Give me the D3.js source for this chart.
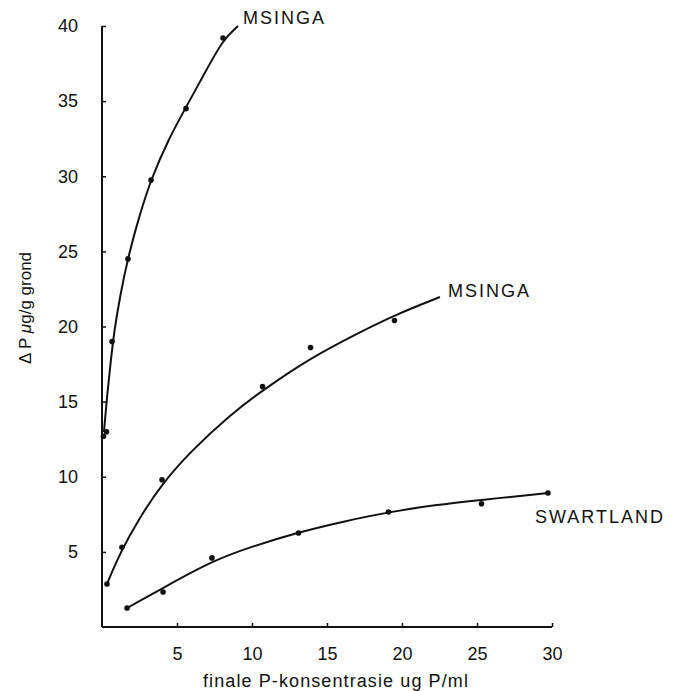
<!DOCTYPE html>
<html>
<head>
<meta charset="utf-8">
<script src="https://cdn.jsdelivr.net/npm/d3@7"></script>
<style>
  body { margin: 0; background: #fff; }
  text { font-family: "Liberation Sans", Arial, sans-serif; fill: #111; }
</style>
</head>
<body>
<div id="chart"></div>
<script>
// tick values
const xTicks = [5, 10, 15, 20, 25, 30];
const yTicks = [5, 10, 15, 20, 25, 30, 35, 40];

// measured points [x, y]
const msingaTopPts = [[0.1, 12.7], [0.3, 13.0], [0.67, 19.0], [1.73, 24.5], [3.27, 29.75], [5.6, 34.5], [8.07, 39.2]];
const msingaMidPts = [[0.33, 2.86], [1.33, 5.3], [4.0, 9.8], [10.7, 16.0], [13.9, 18.6], [19.5, 20.4]];
const swartlandPts = [[1.67, 1.26], [4.07, 2.33], [7.33, 4.6], [13.1, 6.26], [19.1, 7.65], [25.3, 8.2], [29.73, 8.92]];

// fitted curves
const msingaTopCurve = [[0.13, 12.98], [0.33, 15.3], [0.57, 17.6], [0.83, 19.8], [1.2, 22.0], [1.73, 24.6], [2.53, 27.5], [3.27, 29.8], [4.4, 32.4], [5.6, 34.6], [6.87, 36.9], [8.07, 39.1], [9.07, 40.0]];
const msingaMidCurve = [[0.33, 2.86], [1.2, 4.93], [2.53, 7.32], [4.0, 9.52], [5.87, 11.65], [8.53, 14.11], [10.73, 15.77], [13.87, 17.9], [17.2, 19.63], [19.53, 20.77], [22.53, 21.96]];
const swartlandCurve = [[1.67, 1.26], [4.07, 2.6], [7.33, 4.39], [9.87, 5.32], [13.13, 6.32], [16.2, 7.05], [19.13, 7.65], [22.2, 8.12], [25.2, 8.45], [29.73, 8.92]];

const width = 686, height = 691;
const svg = d3.select("#chart").append("svg").attr("width", width).attr("height", height);

const x = d3.scaleLinear().domain([0, 30]).range([102, 552]);
const y = d3.scaleLinear().domain([0, 40]).range([627, 26]);

// axes
const xAxis = d3.axisBottom(x).tickValues(xTicks).tickSize(-4).tickSizeOuter(0).tickPadding(20);
const yAxis = d3.axisLeft(y).tickValues(yTicks).tickSize(-4).tickSizeOuter(0).tickPadding(24);

const gx = svg.append("g").attr("transform", "translate(0," + y(0) + ")").call(xAxis);
const gy = svg.append("g").attr("transform", "translate(" + x(0) + ",0)").call(yAxis);
[gx, gy].forEach(g => {
  g.select(".domain").attr("stroke", "#111").attr("stroke-width", 2);
  g.selectAll(".tick line").attr("stroke", "#111").attr("stroke-width", 1.5);
  g.selectAll(".tick text").style("font-size", "18px").attr("fill", "#111");
});
gy.select(".domain").attr("d", "M0," + y(40) + "V" + y(0));
gx.select(".domain").attr("d", "M" + x(0) + ",0H" + x(30));

// curves
const line = d3.line().x(d => x(d[0])).y(d => y(d[1])).curve(d3.curveBasis);
[msingaTopCurve, msingaMidCurve, swartlandCurve].forEach(c => {
  svg.append("path").attr("d", line(c)).attr("fill", "none").attr("stroke", "#111").attr("stroke-width", 2);
});

// points
[msingaTopPts, msingaMidPts, swartlandPts].forEach(pts => {
  svg.selectAll(null).data(pts).enter().append("circle")
    .attr("cx", d => x(d[0])).attr("cy", d => y(d[1])).attr("r", 2.8)
    .attr("fill", "#111");
});

// series labels
const labels = [
  { t: "MSINGA", x: 243, y: 24 },
  { t: "MSINGA", x: 448, y: 297 },
  { t: "SWARTLAND", x: 535, y: 523 }
];
svg.selectAll(null).data(labels).enter().append("text")
  .attr("x", d => d.x).attr("y", d => d.y)
  .style("font-size", "18px").style("letter-spacing", "2px")
  .text(d => d.t);

// axis titles
svg.append("text").attr("x", 336).attr("y", 687).attr("text-anchor", "middle")
  .style("font-size", "18px").style("letter-spacing", "1.1px")
  .text("finale P-konsentrasie ug P/ml");

const yt = svg.append("text").attr("transform", "translate(31,308) rotate(-90)")
  .attr("text-anchor", "middle").style("font-size", "17px");
yt.append("tspan").text("Δ P  ");
yt.append("tspan").style("font-style", "italic").text("μ");
yt.append("tspan").text("g/g grond");
</script>
</body>
</html>
